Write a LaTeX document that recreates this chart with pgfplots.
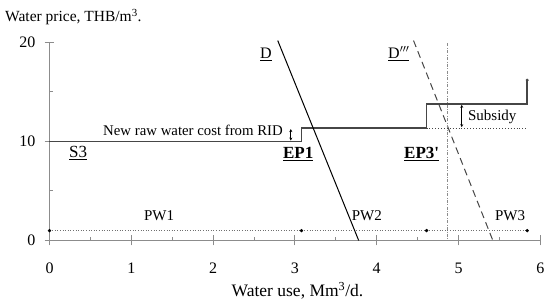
\documentclass[border=0pt]{standalone}
\usepackage{fontspec}
\setmainfont{Liberation Serif}
\usepackage{pgfplots}
\pgfplotsset{compat=1.18}
\usetikzlibrary{arrows.meta}
\definecolor{axgray}{RGB}{140,140,140}
\definecolor{stepgray}{RGB}{70,70,70}
\begin{document}
\begin{tikzpicture}
\path[use as bounding box] (-49.5pt,-61.5pt) rectangle (496.5pt,240.5pt);
\begin{axis}[
  at={(0pt,0pt)}, anchor=origin,
  scale only axis, width=490.8pt, height=198pt,
  xmin=0, xmax=6, ymin=0, ymax=20,
  clip=false,
  axis x line*=bottom, axis y line*=left,
  axis line style={draw=axgray, line width=1.1pt},
  xtick={0,1,2,3,4,5,6}, ytick={0,10,20},
  minor x tick num=1, minor y tick num=1,
  tick align=center,
  major tick length=10pt, minor tick length=3.5pt,
  tick style={draw=axgray, line width=1pt},
  minor x tick style={yshift=1.75pt},
  minor y tick style={xshift=1.75pt},
  /pgf/number format/assume math mode=true,
  ticklabel style={font=\fontsize{16}{18}\selectfont},
  xticklabel style={anchor=north, inner sep=0pt, yshift=-17pt},
  yticklabel style={anchor=east, inner sep=0pt, xshift=-9pt},
]
% PW dotted line and points
\addplot[axgray!80!black, line width=0.6pt, dotted] coordinates {(0,1) (5.84,1)};
\addplot[only marks, mark=*, mark size=1.5pt, black] coordinates {(0,1) (3.08,1) (4.61,1) (5.84,1)};
% supply step S3
\addplot[stepgray, line width=1.6pt] coordinates {(0,10) (3.08,10) (3.08,11.35) (4.61,11.35) (4.61,13.8) (5.84,13.8) (5.84,16.2)};
\addplot[only marks, mark=*, mark size=1.3pt, stepgray] coordinates {(5.84,16.2)};
% subsidy baseline
\addplot[stepgray, line width=0.9pt, dotted] coordinates {(4.61,11.35) (5.84,11.35)};
% demand D
\addplot[black, line width=1pt] coordinates {(2.79,20.2) (3.78,0)};
% demand D'''
\addplot[stepgray, line width=1pt, dash pattern=on 7pt off 4.5pt] coordinates {(4.45,20.2) (5.42,0)};
% vertical dash-dot
\addplot[axgray, line width=0.6pt, dash pattern=on 3pt off 1.5pt on 0.8pt off 1.5pt] coordinates {(4.865,19.9) (4.865,0)};
% arrows
\addplot[black, line width=0.7pt, {Stealth[length=3pt,width=3pt]}-{Stealth[length=3pt,width=3pt]}] coordinates {(5.04,11.45) (5.04,13.7)};
\addplot[black, line width=0.7pt, {Stealth[length=3pt,width=3pt]}-{Stealth[length=3pt,width=3pt]}] coordinates {(2.95,10.1) (2.95,11.25)};
% labels
\node[anchor=base, font=\fontsize{17}{19}\selectfont] at (axis cs:0.35,8.4) {\underline{S3}};
\node[anchor=base, font=\fontsize{17}{19}\selectfont\bfseries] at (axis cs:3.04,8.3) {\underline{EP1}};
\node[anchor=base, font=\fontsize{17}{19}\selectfont\bfseries] at (axis cs:4.55,8.3) {\underline{EP3\textquotesingle}};
\node[anchor=base, font=\fontsize{16}{18}\selectfont] at (axis cs:2.647,18.4) {\underline{D}};
\node[anchor=base, font=\fontsize{16}{18}\selectfont] at (axis cs:4.27,18.4) {\underline{D$^{\prime\prime\prime}$}};
\node[anchor=base, font=\fontsize{15}{17}\selectfont] at (axis cs:1.34,2.07) {PW1};
\node[anchor=base, font=\fontsize{15}{17}\selectfont] at (axis cs:3.88,2.07) {PW2};
\node[anchor=base, font=\fontsize{15}{17}\selectfont] at (axis cs:5.63,2.07) {PW3};
\node[anchor=base east, inner sep=0pt, font=\fontsize{14.8}{17}\selectfont] at (axis cs:2.855,10.59) {New raw water cost from RID};
\node[anchor=base west, inner sep=0pt, font=\fontsize{15}{17}\selectfont] at (axis cs:5.115,12.17) {Subsidy};
\end{axis}
\node[anchor=base west, inner sep=0pt, font=\fontsize{15.5}{18}\selectfont] at (-44.5pt,218.5pt) {Water price, THB/m\textsuperscript{3}.};
\node[anchor=base, inner sep=0pt, font=\fontsize{17.5}{20}\selectfont] at (248pt,-56.2pt) {Water use, Mm\textsuperscript{3}/d.};
\end{tikzpicture}
\end{document}
